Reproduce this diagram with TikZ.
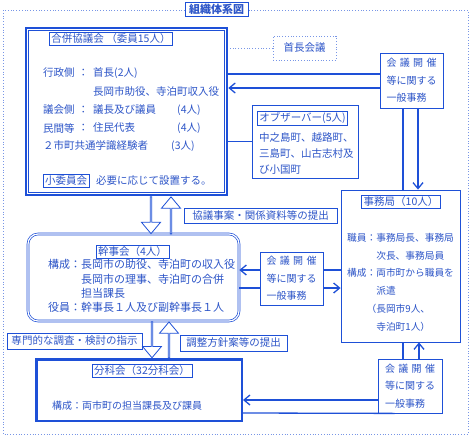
\documentclass[tikz,border=0pt]{standalone}
\usepackage{fontspec}
\setmainfont{Noto Sans CJK JP}
\usetikzlibrary{arrows.meta,shapes.arrows}
\definecolor{lineblue}{RGB}{30,80,215}
\definecolor{textblue}{RGB}{45,85,200}
\definecolor{dotblue}{RGB}{120,150,230}
\newcommand{\jimulabel}{\makebox[5em][l]{会\hfill 議\hfill 開\hfill 催}\\ 等に関する\\ 一般事務}

\begin{document}
\begin{tikzpicture}[x = 1pt, y = -1pt, font = \fontsize{10.5}{14}\selectfont,
	every node/.style = {text = textblue, inner sep = 0pt},
	box/.style = {draw = lineblue, line width = 0.8pt, fill = white},
	tag/.style = {draw = lineblue, line width = 0.6pt, fill = white, inner xsep = 2pt, inner ysep = 1.5pt},
	jimu/.style = {box, minimum width = 63, minimum height = 55, align = left, font = \fontsize{10}{17.5}\selectfont},
	body/.style = {anchor = north west, align = left},
	link/.style = {draw = lineblue, line width = 1.3pt},
	arr/.style = {link, -{Straight Barb[length = 6pt, width = 10pt]}},
	hollow/.style = {single arrow, draw = lineblue, line width = 0.8pt, fill = white, minimum width = 19, single arrow head extend = 4.5pt, single arrow tip angle = 80}]
	\useasboundingbox (0, 0) rectangle (471, 439);
	\draw[dotblue, dotted, line width = 0.8pt] (3, 10) rectangle (468, 434);
	\node (title) at (216.5, 9.5) [tag, minimum width = 63, minimum height = 13, font = \fontsize{11}{13}\selectfont\bfseries] {組織体系図};

	\node (gappei) at (126.5, 111.5) [draw = lineblue, line width = 2.5pt, fill = white, minimum width = 201, minimum height = 167] {};
	\draw[lineblue, line width = 0.8pt] ([shift = {(4, 4)}]gappei.north west) rectangle ([shift = {(-4, -4)}]gappei.south east);
	\node (gappeitag) at (111, 39) [tag] {合併協議会 （委員15人）};
	\foreach \n/\x/\y/\t in {g1/43/73/行政側, g2/78/73/：, g3/93/73/首長(2人), g4/93/91/{長岡市助役、寺泊町収入役}, g5/43/110/議会側, g6/78/110/：, g7/93/110/議長及び議員, g8/177/110/(4人), g9/43/128/民間等, g10/78/128/：, g11/93/128/住民代表, g12/177/128/(4人), g13/43/146/２市町共通学識経験者, g14/171/146/(3人)}
		\node (\n) at (\x, \y) [anchor = west] {\t};
	\node (shoiin) at (66, 180.5) [tag] {小委員会};
	\node (shoiintext) at (96, 181) [anchor = west] {必要に応じて設置する。};

	\node (shucho) at (304.5, 48) [draw = dotblue, dotted, line width = 0.8pt, minimum width = 63, minimum height = 24] {首長会議};
	\node (jimu1) at (411.5, 80.5) [jimu] {\jimulabel};
	\node (obs) at (305, 141.5) [box, minimum width = 106, minimum height = 73] {};
	\node (obstag) at (302.5, 118) [tag] {オブザーバー(5人)};
	\node (obsbody) at (259, 132) [body, font = \fontsize{10.5}{16}\selectfont] {中之島町、越路町、\\三島町、山古志村及\\び小国町};

	\node (jimusho) at (400.5, 266) [box, minimum width = 119, minimum height = 152] {};
	\node (jimushotag) at (401, 202) [tag] {事務局（10人）};
	\node (jimushobody) at (347, 233) [body, font = \fontsize{9.7}{17.8}\selectfont] {職員：事務局長、事務局\\\phantom{職員：}次長、事務局員\\構成：両市町から職員を\\\phantom{職員：}派遣\\\phantom{職員}（長岡市9人、\\\phantom{職員：}寺泊町1人）};

	\node (kyogi) at (260.5, 215.5) [tag, minimum width = 153, minimum height = 15] {協議事案・関係資料等の提出};
	\node (kanji) at (133.5, 277.5) [draw = lineblue, double, double distance = 1.2pt, line width = 0.7pt, rounded corners = 10pt, fill = white, minimum width = 211, minimum height = 87] {};
	\node (kanjitag) at (132.5, 251.5) [tag] {幹事会（4人）};
	\node (kanjibody) at (48, 259.5) [body, font = \fontsize{11}{14.3}\selectfont] {構成：長岡市の助役、寺泊町の収入役\\\phantom{構成：}長岡市の理事、寺泊町の合併\\\phantom{構成：}担当課長\\役員：幹事長１人及び副幹事長１人};
	\node (jimu2) at (291.5, 278.5) [jimu, minimum height = 53] {\jimulabel};

	\node (shiji) at (74.5, 341) [tag, minimum width = 135, minimum height = 16] {専門的な調査・検討の指示};
	\node (chosei) at (233.5, 343) [tag, minimum width = 107, minimum height = 16] {調整方針案等の提出};
	\node (bunka) at (139, 390) [draw = lineblue, line width = 2.5pt, fill = white, minimum width = 205.5, minimum height = 61.5] {};
	\node (bunkatag) at (142, 371) [tag] {分科会（32分科会）};
	\node (bunkabody) at (52, 406) [anchor = west, font = \fontsize{10}{12}\selectfont] {構成：両市町の担当課長及び課員};
	\node (jimu3) at (410, 386) [jimu, minimum width = 64, minimum height = 54] {\jimulabel};

	\node (down1) at ([shift = {(24.5, 0)}]gappei.south) [hollow, shape border rotate = 270, anchor = tail, minimum height = 37] {};
	\node (up1) at ([shift = {(44.5, 0)}]gappei.south) [hollow, shape border rotate = 90, anchor = tip, minimum height = 37] {};
	\node (down2) at ([shift = {(18.5, 0)}]kanji.south) [hollow, shape border rotate = 270, anchor = tail, minimum height = 36] {};
	\node (up2) at ([shift = {(35.5, 0)}]kanji.south) [hollow, shape border rotate = 90, anchor = tip, minimum height = 36] {};

	\draw[dotblue, dotted, line width = 0.8pt] (shucho.west) -- (shucho.west -| gappei.east);
	\draw[link] (obs.west) -- (obs.west -| gappei.east);
	\foreach \dy/\st in {-6.5/link, 7.5/arr}
		\draw[\st] ([shift = {(0, \dy)}]jimu1.west) -- ([shift = {(0, \dy)}]jimu1.west -| gappei.east);
	\foreach \dx/\st in {-8.5/link, 6.5/arr}
		\draw[\st] ([shift = {(\dx, 0)}]jimu1.south) -- ([shift = {(\dx, 0)}]jimu1.south |- jimusho.north);
	\foreach \dy/\left/\right in {-8.5/arr/link, 9.5/link/arr} {
		\draw[\left] ([shift = {(0, \dy)}]jimu2.west) -- ([shift = {(0, \dy)}]jimu2.west -| kanji.east);
		\draw[\right] ([shift = {(0, \dy)}]jimu2.east) -- ([shift = {(0, \dy)}]jimu2.east -| jimusho.west);
	}
	\foreach \dx/\st in {-7/link, 9/arr}
		\draw[\st] ([shift = {(\dx, 0)}]jimu3.north) -- ([shift = {(\dx, 0)}]jimu3.north |- jimusho.south);
	\draw[arr] ([shift = {(0, 14)}]jimu3.west) -- ([shift = {(0, 14)}]jimu3.west -| bunka.east);
	\draw[link] ([shift = {(0, 27)}]jimu3.west -| bunka.east) -- ([shift = {(17, 0)}]jimu3.south west);
\end{tikzpicture}
\end{document}
